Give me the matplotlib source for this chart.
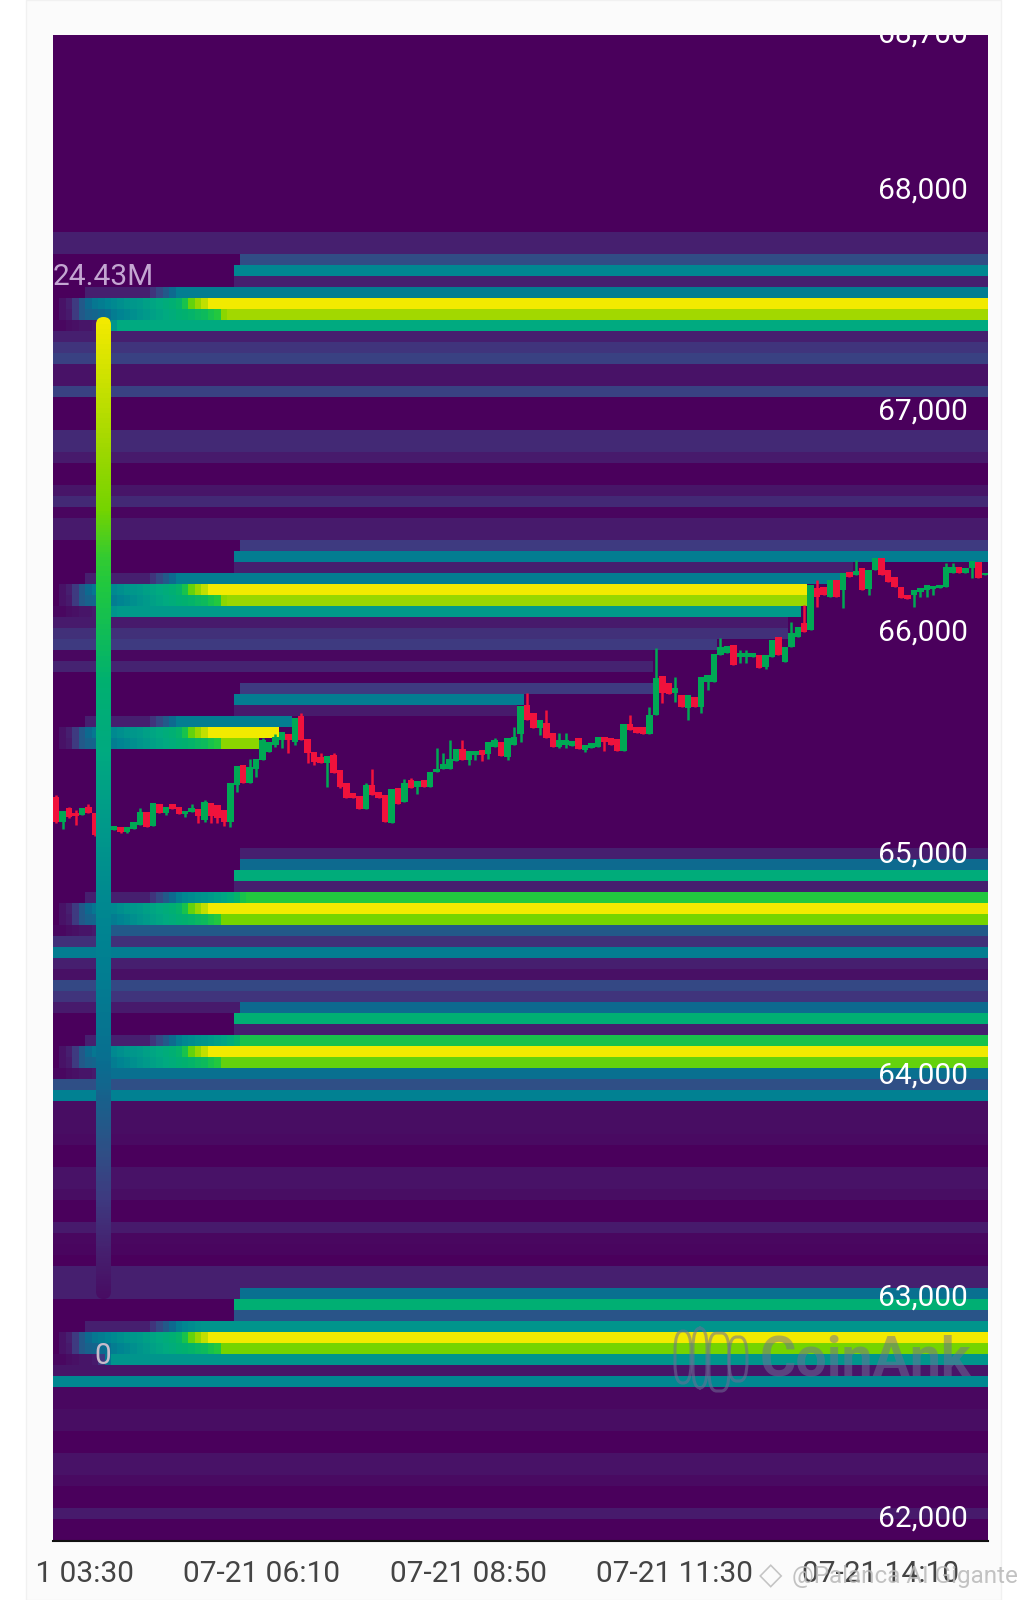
import numpy as np
import matplotlib
matplotlib.use("Agg")
import matplotlib.pyplot as plt
from matplotlib.colors import LinearSegmentedColormap
from matplotlib.patches import FancyBboxPatch, Rectangle
from matplotlib.transforms import Bbox

plt.rcParams['font.family'] = ['Roboto', 'DejaVu Sans']

# --- Data ---
# 5 minute candles, 145 of them
opens = [65251, 65139, 65199, 65176, 65169, 65203, 65179, 65101, 65093, 65101,
         65116, 65093, 65104, 65123, 65184, 65119, 65218, 65179, 65218, 65206,
         65173, 65184, 65194, 65146, 65224, 65214, 65191, 65139, 65304, 65394,
         65315, 65379, 65417, 65455, 65485, 65507, 65537, 65500, 65616, 65510,
         65455, 65432, 65405, 65440, 65372, 65312, 65267, 65254, 65194, 65304,
         65274, 65259, 65134, 65289, 65229, 65327, 65297, 65327, 65297, 65364,
         65379, 65379, 65414, 65465, 65417, 65440, 65462, 65444, 65477, 65500,
         65432, 65485, 65534, 65665, 65628, 65561, 65583, 65538, 65478, 65485,
         65481, 65516, 65463, 65470, 65478, 65523, 65516, 65511, 65460, 65580,
         65568, 65565, 65535, 65621, 65797, 65764, 65719, 65711, 65651, 65704,
         65658, 65771, 65771, 65892, 65899, 65937, 65884, 65882, 65882, 65892,
         65839, 65884, 65975, 65862, 65926, 65975, 66035, 66005, 66193, 66200,
         66152, 66230, 66185, 66268, 66253, 66283, 66188, 66275, 66330, 66275,
         66245, 66200, 66163, 66163, 66178, 66185, 66188, 66193, 66200, 66260,
         66291, 66260, 66283, 66313, 66254]
closes = [65139, 65188, 65161, 65164, 65199, 65179, 65078, 65116, 65116, 65119,
          65093, 65113, 65139, 65184, 65116, 65224, 65179, 65206, 65194, 65173,
          65188, 65199, 65164, 65229, 65164, 65154, 65139, 65315, 65390, 65312,
          65387, 65420, 65507, 65500, 65522, 65545, 65507, 65605, 65507, 65447,
          65409, 65405, 65435, 65357, 65297, 65248, 65244, 65194, 65304, 65259,
          65244, 65139, 65285, 65221, 65312, 65289, 65324, 65294, 65364, 65379,
          65399, 65424, 65465, 65417, 65459, 65459, 65440, 65500, 65507, 65435,
          65515, 65522, 65661, 65598, 65560, 65598, 65516, 65478, 65508, 65508,
          65503, 65466, 65485, 65493, 65523, 65500, 65485, 65460, 65580, 65553,
          65538, 65534, 65621, 65786, 65719, 65716, 65741, 65658, 65711, 65658,
          65794, 65801, 65896, 65929, 65932, 65847, 65899, 65899, 65899, 65832,
          65892, 65959, 65892, 65926, 65990, 66020, 65997, 66208, 66155, 66163,
          66230, 66152, 66260, 66245, 66273, 66185, 66275, 66330, 66253, 66223,
          66200, 66148, 66143, 66185, 66193, 66208, 66203, 66208, 66288, 66291,
          66260, 66283, 66318, 66238, 66260]
highs = [65259, 65188, 65206, 65191, 65199, 65221, 65179, 65116, 65116, 65119,
         65116, 65113, 65139, 65199, 65184, 65224, 65218, 65206, 65218, 65206,
         65188, 65221, 65194, 65239, 65224, 65214, 65191, 65315, 65390, 65394,
         65424, 65420, 65515, 65500, 65537, 65545, 65537, 65605, 65628, 65510,
         65455, 65447, 65435, 65447, 65372, 65312, 65267, 65254, 65315, 65379,
         65274, 65259, 65285, 65289, 65330, 65334, 65324, 65327, 65364, 65470,
         65450, 65507, 65465, 65507, 65459, 65459, 65462, 65500, 65515, 65500,
         65515, 65567, 65661, 65718, 65628, 65598, 65643, 65538, 65541, 65538,
         65503, 65516, 65485, 65493, 65523, 65523, 65516, 65511, 65580, 65621,
         65568, 65565, 65658, 65922, 65797, 65764, 65794, 65711, 65711, 65704,
         65794, 65801, 65896, 65967, 65932, 65937, 65914, 65914, 65899, 65892,
         65892, 65959, 65975, 65926, 66042, 66020, 66117, 66208, 66230, 66200,
         66230, 66230, 66260, 66268, 66321, 66283, 66275, 66330, 66330, 66275,
         66245, 66200, 66163, 66185, 66193, 66208, 66203, 66208, 66306, 66306,
         66291, 66283, 66318, 66313, 66262]
lows = [65131, 65108, 65154, 65123, 65169, 65179, 65074, 65101, 65093, 65101,
        65086, 65086, 65104, 65123, 65116, 65119, 65179, 65169, 65194, 65173,
        65161, 65184, 65131, 65139, 65131, 65131, 65119, 65113, 65274, 65312,
        65315, 65339, 65417, 65455, 65477, 65470, 65447, 65485, 65507, 65402,
        65394, 65405, 65297, 65357, 65289, 65248, 65244, 65194, 65194, 65259,
        65244, 65139, 65134, 65221, 65229, 65289, 65263, 65294, 65297, 65364,
        65379, 65379, 65414, 65417, 65394, 65417, 65414, 65424, 65477, 65435,
        65417, 65485, 65500, 65598, 65560, 65531, 65516, 65478, 65470, 65470,
        65481, 65466, 65455, 65470, 65478, 65460, 65485, 65460, 65460, 65553,
        65538, 65534, 65535, 65621, 65674, 65716, 65681, 65658, 65598, 65658,
        65628, 65734, 65771, 65892, 65899, 65847, 65854, 65854, 65882, 65832,
        65827, 65884, 65892, 65862, 65926, 65975, 65997, 66005, 66110, 66163,
        66152, 66152, 66102, 66245, 66253, 66185, 66163, 66275, 66253, 66223,
        66200, 66148, 66143, 66110, 66155, 66155, 66163, 66193, 66200, 66260,
        66260, 66260, 66238, 66238, 66252]

# heat level of each 50 USD price row at the right side, top row first
row_levels = [0, 0, 0, 0, 0, 0, 0, 0, 0, 0, 0, 0, 0, 0, 0, 0, 0, 0,
              .12, .12, .25, .45, .12, .42, 1, .9, .58, .12, .18, .22, .07, .07,
              .22, 0, 0, 0, .15, .15, .1, 0, 0, .08, .15, .02, .1, .1, .2, .42,
              .12, .42, 1, .88, .52, .1, .17, .2, .03, .13, 0, .2, .42, .1, .42,
              1, .85, 0, 0, 0, 0, 0, 0, 0, 0, 0, .12, .36, .6, .12, .7, 1, .8,
              .3, .17, .42, .12, .06, .24, .18, .36, .62, .12, .68, 1, .78, .38,
              .26, .43, .05, .05, .05, .04, 0, 0, .07, .07, .05, 0, 0, .1, .03,
              .02, 0, .12, .12, .38, .62, .28, .5, 1, .8, .5, .08, .45, .03, .03,
              .05, .05, 0, 0, .07, .07, .04, 0, 0, .1, 0, 0]

# build-up of the big bands on the left, one value per candle
ramp_top = [0, 0, 0, 0, 0, .12, .12, .12, .12, .12, .12, .12, .12, .12, .12, .18, .24,
            .3, .36, .42, .45, .47, .49, .5, .52, .54, .56, .6, .64, .68, .7]
ramp_core = [0, .07, .12, .2, .3, .36, .4, .42, .44, .46, .48, .5, .51, .52, .54, .56,
             .58, .6, .62, .64, .68, .78, .88, .94, 1]
ramp_low = [0, .07, .1, .2, .3, .33, .34, .36, .38, .42, .44, .46, .48, .5, .52, .54,
            .56, .58, .6, .62, .63, .64, .65, .66, .68, .7, .85, 1]
ramp_tail = [.03, .03, .05, .06, .08, .08, .1, .2, .4, .5]

band_rows = [24, 50, 63, 79, 92, 118]
late_rows = {20: 29, 21: 28, 22: 28, 46: 29, 47: 28, 48: 28, 59: 29, 60: 28, 61: 28,
             74: 29, 75: 29, 76: 28, 77: 28, 88: 29, 89: 28, 90: 28,
             114: 29, 115: 28, 116: 28}
late_left = {88: .1, 114: .12}

y_ticks = [68700, 68000, 67000, 66000, 65000, 64000, 63000, 62000]
x_tick_pos = [0.4, 32.4, 64.4, 96.4, 128.4]
x_tick_labels = ['07-21 03:30', '07-21 06:10', '07-21 08:50', '07-21 11:30', '07-21 14:10']
scale_max = '24.43M'
scale_min = '0'

# how the colour scale runs from its top (0) to its bottom (1)
scale_stops = [0, 0.13, 0.245, 0.44, 0.59, 0.755, 0.9, 1]
scale_levels = [1, 0.9, 0.72, 0.58, 0.46, 0.38, 0.2, 0.05]

PRICE_TOP = 68695
BIN_SIZE = 49.665

heat_cmap = LinearSegmentedColormap.from_list('liq', [
    (0.0, '#4a005c'), (0.12, '#46206f'), (0.2, '#3e3a80'), (0.26, '#2f4f86'),
    (0.37, '#0a6d90'), (0.44, '#008492'), (0.52, '#009a8a'), (0.58, '#00aa80'),
    (0.63, '#00b070'), (0.7, '#20c840'), (0.8, '#75d400'), (0.9, '#a0d800'),
    (1.0, '#f2ea00')])


def build_heat():
    """One row per price bin, one column per candle. Levels stop once price has hit them."""
    n_rows, n_cols = len(row_levels), len(opens)
    heat = np.tile(np.array(row_levels, dtype=float)[:, None], (1, n_cols))
    for core in band_rows:
        for row, ramp in ((core - 1, ramp_top), (core, ramp_core), (core + 1, ramp_low), (core + 2, ramp_tail)):
            heat[row, :len(ramp)] = np.minimum(ramp, row_levels[row])
    for row, start in late_rows.items():
        heat[row, :start] = late_left.get(row, 0)
    for row in range(n_rows):
        center = PRICE_TOP - BIN_SIZE * (row + 0.5)
        for col in range(n_cols):
            if lows[col] <= center <= highs[col]:
                heat[row, col:] = 0
                break
    return heat


fig = plt.figure(figsize=(10.28, 16), dpi=100, facecolor='white')
fig.add_artist(Rectangle((26 / 1028, 0), 975 / 1028, 1, transform=fig.transFigure,
                         facecolor='#fbfbfb', edgecolor='#f1f1f1', linewidth=1, zorder=-1))
ax = fig.add_axes([53 / 1028, 59 / 1600, 935 / 1028, 1506 / 1600])

# heatmap
heat = build_heat()
col_edges = np.arange(len(opens) + 1)
row_edges = PRICE_TOP - BIN_SIZE * np.arange(len(row_levels) + 1)
ax.pcolormesh(col_edges, row_edges, heat, cmap=heat_cmap, vmin=0, vmax=1, shading='flat', zorder=1)

# candles
centers = col_edges[:-1] + 0.5
opens_a, closes_a = np.array(opens), np.array(closes)
candle_colors = np.where(closes_a >= opens_a, '#00a854', '#f0123c')
ax.vlines(centers, lows, highs, colors=candle_colors, linewidth=1.8, zorder=3)
ax.bar(centers, np.maximum(np.abs(closes_a - opens_a), 8), bottom=np.minimum(opens_a, closes_a),
       width=1.0, color=candle_colors, zorder=4)

ax.set_xlim(0, len(opens))
ax.set_ylim(61891, 68691)

# colour scale on the left
scale_ax = ax.inset_axes([43 / 935, 242 / 1506, 15 / 935, 982 / 1506], zorder=5)
scale_values = np.interp(np.linspace(0, 1, 256), scale_stops, scale_levels)
scale_img = scale_ax.imshow(scale_values[:, None], cmap=heat_cmap, vmin=0, vmax=1,
                            aspect='auto', extent=(0, 15, 0, 982), interpolation='bilinear')
scale_clip = FancyBboxPatch((0, 0), 15, 982, boxstyle='round,pad=0,rounding_size=7.5',
                            transform=scale_ax.transData, facecolor='none', edgecolor='none')
scale_ax.add_patch(scale_clip)
scale_img.set_clip_path(scale_clip)
scale_ax.axis('off')
ax.text(0, 0.8392, scale_max, transform=ax.transAxes, color='#c4a6d2', fontsize=21.5,
        ha='left', va='center', zorder=10)
ax.text(50 / 935, 0.1228, scale_min, transform=ax.transAxes, color='#c9bccb', fontsize=21.5,
        ha='center', va='center', zorder=10)

# price labels sit inside the plot and get cut at its top edge
for price in y_ticks:
    ax.annotate(f'{price:,}', xy=(915 / 935, price), xycoords=ax.get_yaxis_transform(),
                xytext=(0, -1.5), textcoords='offset points', color='white', fontsize=21.5,
                ha='right', va='center', annotation_clip=False, clip_on=True, zorder=10)
ax.set_yticks([])

ax.set_xticks(x_tick_pos)
ax.set_xticklabels(x_tick_labels, fontsize=21.5, color='#444444')
ax.tick_params(axis='x', length=0, pad=14)
for label in ax.get_xticklabels():
    label.set_clip_box(Bbox([[37, 0], [1028, 1600]]))
    label.set_clip_on(True)
for side in ('top', 'left', 'right'):
    ax.spines[side].set_visible(False)
ax.spines['bottom'].set_color('#111111')
ax.spines['bottom'].set_linewidth(1.5)

# CoinAnk watermark
ax.text(812 / 935, 181 / 1506, 'CoinAnk', transform=ax.transAxes, color='#6f6f96', alpha=0.5,
        fontsize=40, fontweight='bold', ha='center', va='center', zorder=6)
for left, bottom, width, height in [(622, 158, 16, 52), (640, 153, 14, 60), (656, 150, 20, 58), (676, 160, 18, 44)]:
    ax.add_patch(FancyBboxPatch((left / 935, bottom / 1506), width / 935, height / 1506,
                                boxstyle='round,pad=0,rounding_size=0.008', mutation_aspect=1.6,
                                transform=ax.transAxes, facecolor='none', edgecolor='#6f6f96',
                                alpha=0.55, linewidth=2.2, zorder=6))

# platform watermark below the chart
fig.text(792 / 1028, 24 / 1600, '@Palanca AI Gigante', color='#b8b8b8', fontsize=17.5, ha='left',
         va='center', alpha=0.85, zorder=10)
fig.text(771 / 1028, 24 / 1600, '◇', color='#c4c4c4', fontsize=22, ha='center', va='center',
         family=['DejaVu Sans'], zorder=10)

fig.savefig('out.png', dpi=100)
